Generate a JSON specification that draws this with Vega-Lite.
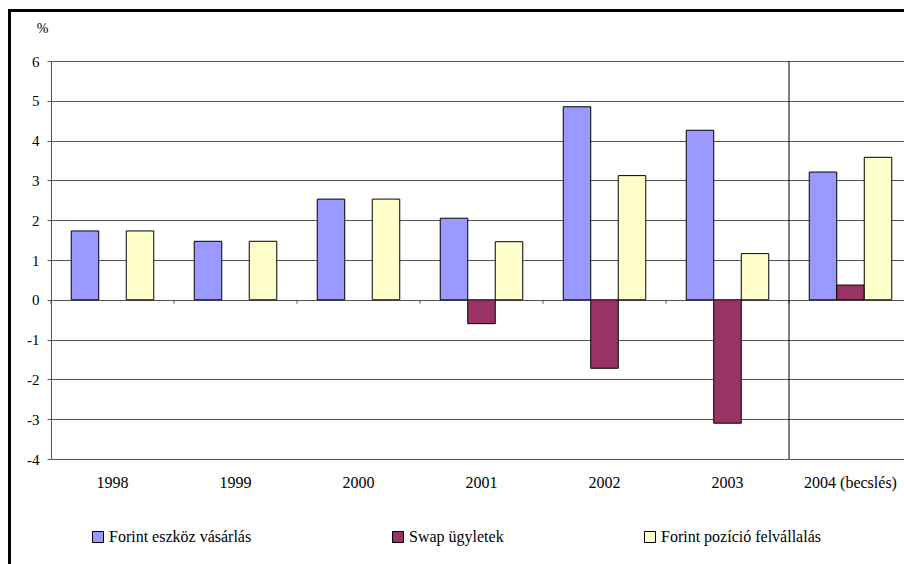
{
  "$schema": "https://vega.github.io/schema/vega-lite/v6.json",
  "autosize": {"type": "none"},
  "padding": {"left": 51, "top": 61, "right": 0, "bottom": 105},
  "width": 861,
  "height": 398,
  "background": "white",
  "config": {
    "view": {"stroke": null},
    "font": "Times New Roman",
    "axis": {"labelFont": "Times New Roman", "titleFont": "Times New Roman", "labelColor": "black", "titleColor": "black"},
    "axisX": {"domain": false, "ticks": false, "tickSize": 0, "labelAngle": 0, "labelFontSize": 16, "labelPadding": 15, "grid": false},
    "axisY": {
      "tickCount": 10, "labelOverlap": false, "labelFontSize": 15, "labelPadding": 8, "tickSize": 4,
      "tickColor": "#555", "domainColor": "#555",
      "grid": true, "gridColor": "#555", "gridWidth": 1, "gridOpacity": 1
    },
    "legend": {"labelFont": "Times New Roman"}
  },
  "datasets": {
    "flows": [
      {"year": "1998", "series": "Forint eszköz vásárlás", "value": 1.73},
      {"year": "1998", "series": "Forint pozíció felvállalás", "value": 1.73},
      {"year": "1999", "series": "Forint eszköz vásárlás", "value": 1.47},
      {"year": "1999", "series": "Forint pozíció felvállalás", "value": 1.47},
      {"year": "2000", "series": "Forint eszköz vásárlás", "value": 2.53},
      {"year": "2000", "series": "Forint pozíció felvállalás", "value": 2.53},
      {"year": "2001", "series": "Forint eszköz vásárlás", "value": 2.05},
      {"year": "2001", "series": "Swap ügyletek", "value": -0.6},
      {"year": "2001", "series": "Forint pozíció felvállalás", "value": 1.46},
      {"year": "2002", "series": "Forint eszköz vásárlás", "value": 4.85},
      {"year": "2002", "series": "Swap ügyletek", "value": -1.72},
      {"year": "2002", "series": "Forint pozíció felvállalás", "value": 3.12},
      {"year": "2003", "series": "Forint eszköz vásárlás", "value": 4.26},
      {"year": "2003", "series": "Swap ügyletek", "value": -3.1},
      {"year": "2003", "series": "Forint pozíció felvállalás", "value": 1.16},
      {"year": "2004 (becslés)", "series": "Forint eszköz vásárlás", "value": 3.21},
      {"year": "2004 (becslés)", "series": "Swap ügyletek", "value": 0.37},
      {"year": "2004 (becslés)", "series": "Forint pozíció felvállalás", "value": 3.58}
    ],
    "years": [
      {"year": "1998"}, {"year": "1999"}, {"year": "2000"}, {"year": "2001"},
      {"year": "2002"}, {"year": "2003"}, {"year": "2004 (becslés)"}
    ]
  },
  "layer": [
    {
      "data": {"name": "flows"},
      "mark": {"type": "bar", "stroke": "black", "strokeWidth": 1},
      "encoding": {
        "x": {
          "field": "year", "type": "nominal", "title": null,
          "scale": {"domain": ["1998", "1999", "2000", "2001", "2002", "2003", "2004 (becslés)"], "paddingInner": 0, "paddingOuter": 0}
        },
        "xOffset": {
          "field": "series", "type": "nominal",
          "scale": {"domain": ["Forint eszköz vásárlás", "Swap ügyletek", "Forint pozíció felvállalás"], "paddingInner": 0, "paddingOuter": 0.736}
        },
        "y": {
          "field": "value", "type": "quantitative",
          "scale": {"domain": [-4, 6], "nice": false, "zero": false},
          "axis": {
            "title": "%", "titleAngle": 0, "titleFontSize": 14, "titleFontWeight": "normal",
            "titleX": -9, "titleY": -33, "titleAlign": "center", "titleBaseline": "middle",
            "labelExpr": "'' + datum.value"
          }
        },
        "color": {
          "field": "series", "type": "nominal",
          "scale": {"domain": ["Forint eszköz vásárlás", "Swap ügyletek", "Forint pozíció felvállalás"], "range": ["#9999FF", "#993366", "#FFFFCC"]},
          "legend": {
            "title": null, "orient": "none", "legendX": 39, "legendY": 468,
            "direction": "horizontal", "columnPadding": 138, "padding": 0,
            "symbolType": "square", "symbolSize": 121, "symbolStrokeColor": "black", "symbolStrokeWidth": 1, "symbolOpacity": 1,
            "labelFontSize": 16, "labelOffset": 3, "labelColor": "black", "labelLimit": 300
          }
        }
      }
    },
    {
      "data": {"name": "years"},
      "mark": {"type": "rule", "color": "#555", "strokeWidth": 1},
      "encoding": {
        "x": {"field": "year", "type": "nominal", "bandPosition": 0, "title": null},
        "y": {"datum": 0},
        "y2": {"datum": -0.1}
      }
    },
    {
      "data": {"values": [{"year": "2004 (becslés)"}]},
      "mark": {"type": "rule", "color": "black", "strokeWidth": 1},
      "encoding": {
        "x": {"field": "year", "type": "nominal", "bandPosition": 0, "title": null},
        "y": {"datum": 6},
        "y2": {"datum": -4}
      }
    },
    {
      "data": {"values": [{}]},
      "mark": {"type": "rect", "fill": null, "stroke": "black", "strokeWidth": 3, "clip": false},
      "encoding": {
        "x": {"value": -41.5},
        "x2": {"value": 900},
        "y": {"value": -50.5},
        "y2": {"value": 560}
      }
    }
  ]
}
